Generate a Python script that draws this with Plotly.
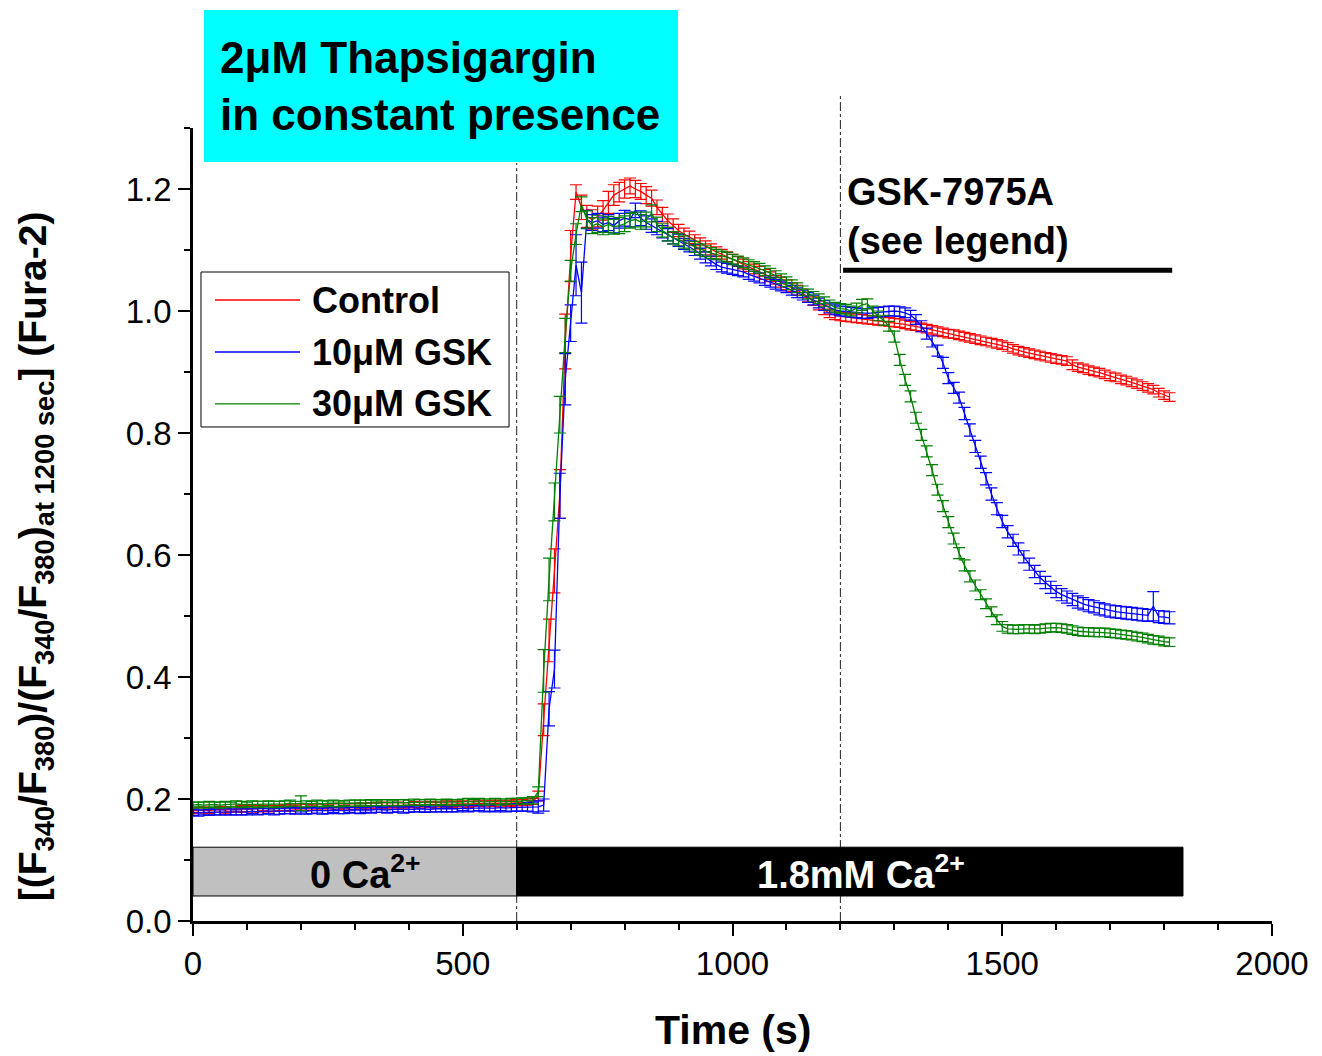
import plotly.graph_objects as go

# ---------------------------------------------------------------------------
# Data: normalised Fura-2 ratio, sampled every 10 s from 0 to 1810 s
# ---------------------------------------------------------------------------
time_s = list(range(0, 1820, 10))

series_names = ["Control", "10\u03bcM GSK", "30\u03bcM GSK"]
series_colors = ["#FF0000", "#0000FF", "#008000"]

control_mean = [
    # 0-590 s (0 Ca2+)
    0.181, 0.182, 0.182, 0.181, 0.182, 0.183, 0.182, 0.183, 0.183, 0.184,
    0.183, 0.184, 0.184, 0.185, 0.184, 0.185, 0.185, 0.186, 0.185, 0.186,
    0.187, 0.186, 0.186, 0.187, 0.187, 0.188, 0.187, 0.188, 0.188, 0.187,
    0.188, 0.189, 0.188, 0.189, 0.189, 0.190, 0.189, 0.190, 0.190, 0.189,
    0.190, 0.191, 0.190, 0.191, 0.191, 0.190, 0.191, 0.192, 0.191, 0.192,
    0.192, 0.191, 0.192, 0.193, 0.192, 0.193, 0.193, 0.192, 0.193, 0.193,
    # 600-720 s
    0.194, 0.194, 0.195, 0.196, 0.205, 0.330, 0.460, 0.574, 0.700, 0.950,
    1.090, 1.195, 1.170,
    # 730-900 s
    1.155, 1.150, 1.155, 1.165, 1.178, 1.190, 1.195, 1.200, 1.205, 1.200,
    1.196, 1.190, 1.185, 1.170, 1.158, 1.148, 1.140, 1.132,
    # 910-1000 s
    1.126, 1.121, 1.116, 1.111, 1.106, 1.101, 1.097, 1.093, 1.089, 1.085,
    # 1010-1100 s
    1.081, 1.077, 1.073, 1.069, 1.065, 1.060, 1.056, 1.051, 1.047, 1.043,
    # 1110-1200 s
    1.039, 1.034, 1.029, 1.023, 1.016, 1.009, 1.002, 0.996, 0.993, 0.991,
    # 1210-1300 s
    0.990, 0.989, 0.988, 0.987, 0.986, 0.985, 0.984, 0.983, 0.982, 0.981,
    # 1310-1400 s
    0.980, 0.978, 0.976, 0.975, 0.973, 0.971, 0.969, 0.967, 0.965, 0.963,
    # 1410-1500 s
    0.962, 0.960, 0.958, 0.956, 0.954, 0.952, 0.950, 0.948, 0.946, 0.944,
    # 1510-1600 s
    0.941, 0.938, 0.935, 0.933, 0.931, 0.929, 0.927, 0.925, 0.923, 0.921,
    # 1610-1700 s
    0.920, 0.918, 0.912, 0.908, 0.906, 0.903, 0.901, 0.899, 0.896, 0.893,
    # 1710-1810 s
    0.891, 0.888, 0.886, 0.883, 0.880, 0.877, 0.874, 0.871, 0.866, 0.862,
    0.859,
]

control_sem = [
    0.005, 0.004, 0.005, 0.005, 0.004, 0.005, 0.005, 0.004, 0.005, 0.005,
    0.004, 0.005, 0.005, 0.004, 0.005, 0.005, 0.004, 0.005, 0.005, 0.004,
    0.005, 0.005, 0.004, 0.005, 0.005, 0.004, 0.005, 0.005, 0.004, 0.005,
    0.005, 0.004, 0.005, 0.005, 0.004, 0.005, 0.005, 0.004, 0.005, 0.005,
    0.004, 0.005, 0.005, 0.004, 0.005, 0.005, 0.004, 0.005, 0.005, 0.004,
    0.005, 0.005, 0.004, 0.005, 0.005, 0.004, 0.005, 0.005, 0.004, 0.005,
    0.005, 0.005, 0.005, 0.005, 0.008, 0.026, 0.035, 0.036, 0.040, 0.045,
    0.042, 0.012, 0.020,
    0.018, 0.016, 0.017, 0.016, 0.018, 0.017, 0.016, 0.015, 0.013, 0.014,
    0.013, 0.014, 0.013, 0.012, 0.012, 0.011, 0.011, 0.010,
    0.010, 0.010, 0.009, 0.009, 0.009, 0.009, 0.008, 0.008, 0.008, 0.008,
    0.008, 0.008, 0.008, 0.008, 0.008, 0.008, 0.008, 0.007, 0.008, 0.008,
    0.007, 0.008, 0.007, 0.008, 0.007, 0.007, 0.008, 0.007, 0.007, 0.007,
    0.007, 0.007, 0.007, 0.007, 0.007, 0.007, 0.007, 0.007, 0.007, 0.007,
    0.007, 0.007, 0.007, 0.007, 0.007, 0.007, 0.007, 0.007, 0.007, 0.007,
    0.007, 0.007, 0.007, 0.007, 0.007, 0.007, 0.007, 0.007, 0.007, 0.007,
    0.007, 0.007, 0.007, 0.007, 0.007, 0.007, 0.007, 0.007, 0.007, 0.007,
    0.007, 0.007, 0.008, 0.007, 0.007, 0.007, 0.007, 0.007, 0.007, 0.007,
    0.007, 0.007, 0.007, 0.007, 0.007, 0.007, 0.007, 0.007, 0.007, 0.007,
    0.007,
]

gsk10_mean = [
    0.178, 0.177, 0.178, 0.178, 0.179, 0.178, 0.179, 0.179, 0.178, 0.179,
    0.179, 0.180, 0.179, 0.180, 0.180, 0.179, 0.180, 0.180, 0.181, 0.180,
    0.181, 0.180, 0.181, 0.181, 0.180, 0.181, 0.182, 0.181, 0.181, 0.182,
    0.182, 0.181, 0.182, 0.182, 0.183, 0.182, 0.182, 0.183, 0.183, 0.182,
    0.183, 0.183, 0.184, 0.183, 0.183, 0.184, 0.184, 0.183, 0.184, 0.184,
    0.185, 0.184, 0.185, 0.185, 0.184, 0.185, 0.185, 0.186, 0.185, 0.186,
    0.186, 0.186, 0.187, 0.187, 0.187, 0.190, 0.348, 0.413, 0.697, 0.888,
    0.980, 1.075, 1.030,
    1.150, 1.145, 1.148, 1.142, 1.145, 1.140, 1.148, 1.152, 1.150, 1.165,
    1.152, 1.145, 1.140, 1.136, 1.130, 1.125, 1.120, 1.116,
    1.110, 1.106, 1.100, 1.094, 1.088, 1.082, 1.076, 1.072, 1.070, 1.068,
    1.066, 1.064, 1.060, 1.057, 1.054, 1.050, 1.047, 1.044, 1.041, 1.038,
    1.034, 1.030, 1.026, 1.022, 1.018, 1.013, 1.009, 1.005, 1.002, 1.000,
    0.999, 0.998, 0.997, 0.996, 0.996, 0.997, 0.998, 0.999, 1.000, 1.000,
    0.999, 0.997, 0.993, 0.986, 0.975, 0.963, 0.950, 0.935, 0.915, 0.890,
    0.874, 0.858, 0.832, 0.805, 0.778, 0.752, 0.725, 0.700, 0.676, 0.655,
    0.638, 0.624, 0.610, 0.597, 0.585, 0.573, 0.563, 0.555, 0.547, 0.540,
    0.535, 0.531, 0.527, 0.523, 0.520, 0.517, 0.515, 0.512, 0.510, 0.508,
    0.507, 0.506, 0.505, 0.504, 0.503, 0.502, 0.501, 0.516, 0.499, 0.498,
    0.497,
]

gsk10_sem = [
    0.005, 0.005, 0.004, 0.005, 0.005, 0.004, 0.005, 0.005, 0.004, 0.005,
    0.005, 0.004, 0.005, 0.005, 0.004, 0.005, 0.005, 0.004, 0.005, 0.005,
    0.004, 0.005, 0.005, 0.004, 0.005, 0.005, 0.004, 0.005, 0.005, 0.004,
    0.005, 0.005, 0.004, 0.005, 0.005, 0.004, 0.005, 0.005, 0.004, 0.005,
    0.005, 0.004, 0.005, 0.005, 0.004, 0.005, 0.005, 0.004, 0.005, 0.005,
    0.004, 0.005, 0.005, 0.004, 0.005, 0.005, 0.006, 0.005, 0.006, 0.006,
    0.006, 0.006, 0.007, 0.008, 0.010, 0.010, 0.028, 0.031, 0.037, 0.042,
    0.030, 0.050, 0.050,
    0.015, 0.013, 0.012, 0.012, 0.013, 0.012, 0.012, 0.013, 0.012, 0.012,
    0.012, 0.011, 0.011, 0.011, 0.010, 0.010, 0.010, 0.010,
    0.009, 0.009, 0.009, 0.009, 0.009, 0.008, 0.008, 0.008, 0.008, 0.008,
    0.008, 0.008, 0.008, 0.008, 0.008, 0.008, 0.008, 0.008, 0.008, 0.008,
    0.008, 0.008, 0.008, 0.008, 0.008, 0.008, 0.008, 0.008, 0.008, 0.008,
    0.008, 0.008, 0.008, 0.008, 0.008, 0.008, 0.008, 0.008, 0.008, 0.008,
    0.008, 0.008, 0.008, 0.008, 0.009, 0.009, 0.009, 0.009, 0.009, 0.009,
    0.009, 0.009, 0.010, 0.010, 0.010, 0.010, 0.010, 0.010, 0.010, 0.010,
    0.010, 0.010, 0.010, 0.010, 0.010, 0.010, 0.010, 0.010, 0.010, 0.010,
    0.010, 0.010, 0.010, 0.010, 0.010, 0.010, 0.010, 0.010, 0.010, 0.010,
    0.010, 0.010, 0.010, 0.010, 0.010, 0.010, 0.010, 0.024, 0.010, 0.010,
    0.010,
]

gsk30_mean = [
    0.190, 0.191, 0.190, 0.191, 0.191, 0.190, 0.191, 0.191, 0.192, 0.191,
    0.191, 0.192, 0.191, 0.192, 0.192, 0.191, 0.192, 0.192, 0.193, 0.192,
    0.193, 0.192, 0.192, 0.193, 0.192, 0.193, 0.193, 0.192, 0.193, 0.193,
    0.193, 0.194, 0.193, 0.194, 0.193, 0.194, 0.194, 0.193, 0.194, 0.194,
    0.194, 0.195, 0.194, 0.195, 0.195, 0.194, 0.195, 0.195, 0.194, 0.195,
    0.195, 0.196, 0.195, 0.196, 0.195, 0.196, 0.196, 0.195, 0.196, 0.196,
    0.196, 0.197, 0.197, 0.198, 0.212, 0.410, 0.560, 0.687, 0.830, 0.960,
    1.066, 1.126, 1.175,
    1.150, 1.140, 1.143, 1.138, 1.142, 1.138, 1.140, 1.143, 1.148, 1.150,
    1.146, 1.150, 1.160, 1.142, 1.132, 1.126, 1.120, 1.117,
    1.113, 1.109, 1.105, 1.101, 1.098, 1.095, 1.093, 1.090, 1.088, 1.085,
    1.082, 1.079, 1.076, 1.073, 1.070, 1.066, 1.062, 1.058, 1.053, 1.048,
    1.043, 1.038, 1.033, 1.028, 1.024, 1.020, 1.015, 1.010, 1.006, 1.004,
    1.003, 1.000, 1.005, 1.010, 1.012, 1.000, 0.992, 0.985, 0.975, 0.958,
    0.920, 0.887, 0.860, 0.825, 0.797, 0.770, 0.739, 0.707, 0.680, 0.654,
    0.627, 0.603, 0.583, 0.565, 0.550, 0.535, 0.520, 0.507, 0.494, 0.483,
    0.479, 0.478, 0.478, 0.479, 0.479, 0.478, 0.479, 0.480, 0.481, 0.481,
    0.480, 0.479, 0.477, 0.475, 0.474, 0.474, 0.473, 0.473, 0.473, 0.472,
    0.471, 0.470, 0.469, 0.468, 0.466, 0.465, 0.463, 0.461, 0.460, 0.458,
    0.457,
]

gsk30_sem = [
    0.005, 0.004, 0.005, 0.005, 0.004, 0.005, 0.005, 0.004, 0.005, 0.005,
    0.004, 0.005, 0.005, 0.004, 0.005, 0.005, 0.004, 0.005, 0.005, 0.004,
    0.012, 0.005, 0.004, 0.005, 0.005, 0.004, 0.005, 0.005, 0.004, 0.005,
    0.005, 0.004, 0.005, 0.005, 0.004, 0.005, 0.005, 0.004, 0.005, 0.005,
    0.004, 0.005, 0.005, 0.004, 0.005, 0.005, 0.004, 0.005, 0.005, 0.004,
    0.005, 0.005, 0.004, 0.005, 0.005, 0.004, 0.005, 0.005, 0.004, 0.005,
    0.005, 0.005, 0.005, 0.006, 0.008, 0.035, 0.035, 0.031, 0.030, 0.028,
    0.017, 0.017, 0.012,
    0.014, 0.013, 0.014, 0.013, 0.013, 0.012, 0.013, 0.013, 0.012, 0.012,
    0.012, 0.012, 0.014, 0.012, 0.011, 0.011, 0.010, 0.010,
    0.010, 0.009, 0.009, 0.009, 0.009, 0.009, 0.008, 0.008, 0.008, 0.008,
    0.008, 0.008, 0.008, 0.008, 0.008, 0.008, 0.008, 0.008, 0.008, 0.008,
    0.008, 0.008, 0.008, 0.008, 0.008, 0.008, 0.008, 0.008, 0.008, 0.008,
    0.008, 0.008, 0.008, 0.009, 0.008, 0.008, 0.008, 0.008, 0.008, 0.009,
    0.009, 0.009, 0.009, 0.009, 0.009, 0.009, 0.009, 0.009, 0.009, 0.009,
    0.009, 0.009, 0.009, 0.009, 0.009, 0.008, 0.008, 0.008, 0.008, 0.008,
    0.007, 0.007, 0.007, 0.007, 0.007, 0.007, 0.007, 0.007, 0.007, 0.007,
    0.007, 0.007, 0.007, 0.007, 0.007, 0.007, 0.007, 0.007, 0.007, 0.007,
    0.007, 0.007, 0.007, 0.007, 0.007, 0.007, 0.007, 0.007, 0.007, 0.007,
    0.007,
]

# Protocol annotations (times in s)
ca_phases = [("0 Ca<sup>2+</sup>", 0, 600, "#C0C0C0", "black"),
             ("1.8mM Ca<sup>2+</sup>", 600, 1835, "black", "white")]
ca_bar_y = (0.041, 0.121)
event_times = [600, 1200]
gsk_bar = (1205, 1815, 1.067)

x_ticks = [0, 500, 1000, 1500, 2000]
y_ticks = [0.0, 0.2, 0.4, 0.6, 0.8, 1.0, 1.2]

FONT = "Liberation Sans, Arial, sans-serif"

fig = go.Figure()

means = [control_mean, gsk10_mean, gsk30_mean]
sems = [control_sem, gsk10_sem, gsk30_sem]
for name, color, m, s in zip(series_names, series_colors, means, sems):
    fig.add_trace(go.Scatter(
        x=time_s, y=m, name=name, mode="lines",
        line=dict(color=color, width=1.3),
        error_y=dict(type="data", array=s, visible=True,
                     color=color, thickness=1.2, width=6),
        showlegend=False,
    ))

shapes = []
annotations = []

# Calcium protocol bars
for label, t0, t1, fill, txt_color in ca_phases:
    shapes.append(dict(type="rect", xref="x", yref="y",
                       x0=t0, x1=t1, y0=ca_bar_y[0], y1=ca_bar_y[1],
                       fillcolor=fill, line=dict(color="black", width=1)))
    annotations.append(dict(xref="x", yref="y", x=(t0 + t1) / 2 + 20,
                            y=(ca_bar_y[0] + ca_bar_y[1]) / 2,
                            text="<b>" + label + "</b>", showarrow=False,
                            font=dict(family=FONT, size=38, color=txt_color),
                            xanchor="center", yanchor="middle"))

# Dash-dot event markers
shapes.append(dict(type="line", xref="x", yref="paper", x0=event_times[0],
                   x1=event_times[0], y0=0, y1=0.956, layer="below",
                   line=dict(color="#222222", width=1, dash="dashdot")))
shapes.append(dict(type="line", xref="x", yref="paper", x0=event_times[1],
                   x1=event_times[1], y0=0, y1=1.042, layer="below",
                   line=dict(color="#222222", width=1, dash="dashdot")))

# GSK application bar
shapes.append(dict(type="line", xref="x", yref="y", x0=gsk_bar[0],
                   x1=gsk_bar[1], y0=gsk_bar[2], y1=gsk_bar[2],
                   line=dict(color="black", width=5)))
annotations.append(dict(xref="paper", yref="paper", x=0.6043, y=0.888,
                        text="<b>GSK-7975A<br>(see legend)</b>",
                        showarrow=False, align="left",
                        xanchor="left", yanchor="middle",
                        font=dict(family=FONT, size=38, color="black")))

# Thapsigargin banner
shapes.append(dict(type="rect", xref="paper", yref="paper",
                   x0=0.0102, x1=0.4495, y0=0.957, y1=1.1488,
                   fillcolor="#00FFFF", line=dict(width=0)))
annotations.append(dict(xref="paper", yref="paper", x=0.0231, y=1.053,
                        text="<b>2\u03bcM Thapsigargin<br>in constant presence</b>",
                        showarrow=False, align="left",
                        xanchor="left", yanchor="middle",
                        font=dict(family=FONT, size=44, color="black")))

# Legend box
shapes.append(dict(type="rect", xref="paper", yref="paper",
                   x0=0.0074, x1=0.2929, y0=0.623, y1=0.8184,
                   fillcolor="white", line=dict(color="black", width=1)))
legend_rows = [0.7831, 0.7175, 0.652]
for name, color, yy in zip(series_names, series_colors, legend_rows):
    shapes.append(dict(type="line", xref="paper", yref="paper",
                       x0=0.0204, x1=0.0992, y0=yy, y1=yy,
                       line=dict(color=color, width=1.3)))
    annotations.append(dict(xref="paper", yref="paper", x=0.1085, y=yy,
                            text="<b>" + name + "</b>", showarrow=False,
                            xanchor="left", yanchor="middle",
                            font=dict(family=FONT, size=36, color="black")))

# Axis titles
annotations.append(dict(xref="paper", yref="paper", x=-0.1464, y=0.46,
                        text="<b>[(F<sub>340</sub>/F<sub>380</sub>)/(F<sub>340</sub>/F<sub>380</sub>)"
                             "<sub>at 1200 sec</sub>] (Fura-2)</b>",
                        textangle=-90, showarrow=False,
                        xanchor="center", yanchor="middle",
                        font=dict(family=FONT, size=39, color="black")))
annotations.append(dict(xref="paper", yref="paper", x=0.5, y=-0.1375,
                        text="<b>Time (s)</b>", showarrow=False,
                        xanchor="center", yanchor="middle",
                        font=dict(family=FONT, size=41, color="black")))

axis_common = dict(showline=True, linecolor="black", linewidth=2.5,
                   showgrid=False, zeroline=False, ticks="outside",
                   ticklen=12, tickwidth=2, tickcolor="black",
                   tickfont=dict(family=FONT, size=33, color="black"))

fig.update_layout(
    width=1322, height=1056,
    margin=dict(l=193, r=50, t=128, b=135),
    paper_bgcolor="white", plot_bgcolor="white",
    showlegend=False,
    shapes=shapes, annotations=annotations,
    xaxis=dict(range=[0, 2000], tickvals=x_ticks,
               ticktext=[str(v) for v in x_ticks],
               minor=dict(dtick=100, ticklen=6, tickwidth=2,
                          tickcolor="black", ticks="outside"),
               **axis_common),
    yaxis=dict(range=[0, 1.3], tickvals=y_ticks,
               ticktext=["%.1f" % v for v in y_ticks],
               minor=dict(dtick=0.1, ticklen=6, tickwidth=2,
                          tickcolor="black", ticks="outside"),
               **axis_common),
)

fig.write_html("out.html")
